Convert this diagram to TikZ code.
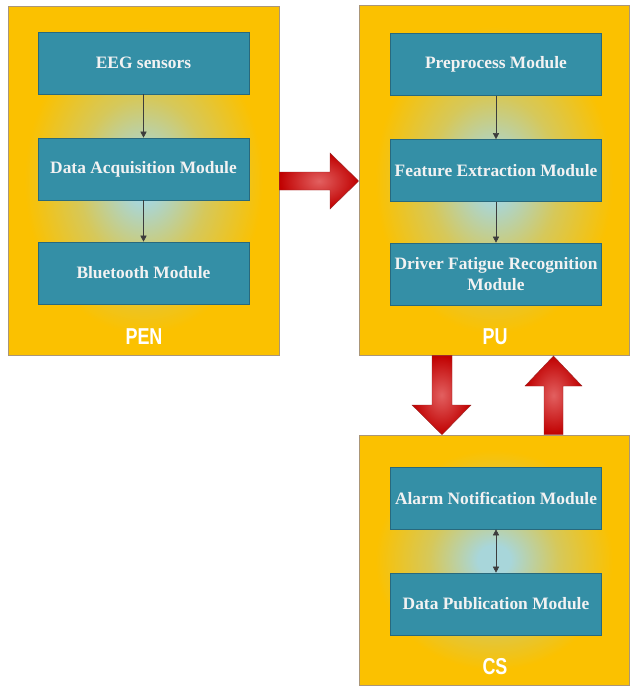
\documentclass[tikz,border=0pt]{standalone}
\usepackage{fontspec}
\usepackage{graphicx}
\setmainfont{Liberation Serif}
\setsansfont{Liberation Sans}
\usetikzlibrary{arrows.meta}
\definecolor{boxy}{RGB}{251,193,0}
\definecolor{glowm}{RGB}{214,200,90}
\definecolor{glowc}{RGB}{168,214,218}
\definecolor{teal1}{RGB}{52,143,166}
\definecolor{teal2}{RGB}{40,105,125}
\definecolor{redin}{RGB}{226,96,96}
\definecolor{redout}{RGB}{192,0,0}
\definecolor{redline}{RGB}{150,40,40}
\definecolor{txtw}{RGB}{242,242,242}
\pgfdeclareradialshading{glow}{\pgfpoint{0bp}{0bp}}{color(0bp)=(glowc); color(3bp)=(glowc); color(12bp)=(glowm); color(22bp)=(boxy); color(50bp)=(boxy)}
\tikzset{
  outerbox/.style={draw={rgb,255:red,170;green,150;blue,120}, line width=0.6pt, shading=glow, inner sep=0pt},
  modbox/.style={draw=teal2, line width=0.6pt, fill=teal1, minimum width=211pt, minimum height=62pt, inner sep=0pt, text=txtw, align=center, font=\fontsize{17.4}{21.5}\selectfont\bfseries},
  grplabel/.style={text=white, inner sep=0pt, font=\fontsize{23}{23}\selectfont\sffamily\bfseries},
  link/.style={draw={rgb,255:red,60;green,60;blue,60}, line width=0.5pt, -{Triangle[length=6pt,width=6pt]}},
  link2/.style={draw={rgb,255:red,60;green,60;blue,60}, line width=0.5pt, {Triangle[length=6pt,width=6pt]}-{Triangle[length=6pt,width=6pt]}},
  blockarrow/.style={draw=redline, line width=0.4pt, shading=radial, inner color=redin, outer color=redout}
}
\begin{document}
\begin{tikzpicture}[x=1pt,y=-1pt]
\useasboundingbox (0,0) rectangle (630,686);
% outer groups
\node[outerbox, minimum width=271pt, minimum height=349pt] (pen) at (143.5,180.5) {};
\node[outerbox, minimum width=270pt, minimum height=350pt] (pu) at (494,180) {};
\node[outerbox, minimum width=270pt, minimum height=250pt] (cs) at (494,560) {};
% modules
\node[modbox] (eeg) at (143.5,63) {EEG sensors};
\node[modbox] (daq) at (143.5,169) {Data Acquisition Module};
\node[modbox] (bt) at (143.5,273) {Bluetooth Module};
\node[modbox] (pre) at (496,64.5) {Preprocess Module};
\node[modbox] (feat) at (496,170.5) {Feature Extraction Module};
\node[modbox] (dfr) at (496,274) {Driver Fatigue Recognition\\Module};
\node[modbox] (alarm) at (496,498) {Alarm Notification Module};
\node[modbox] (pub) at (496,604) {Data Publication Module};
% labels
\node[grplabel] (penl) at (144,337) {\scalebox{0.78}[1]{PEN}};
\node[grplabel] (pul) at (495,337) {\scalebox{0.78}[1]{PU}};
\node[grplabel] (csl) at (495,667) {\scalebox{0.78}[1]{CS}};
% internal links
\draw[link] (eeg) -- (daq);
\draw[link] (daq) -- (bt);
\draw[link] (pre) -- (feat);
\draw[link] (feat) -- (dfr);
\draw[link2] (alarm) -- (pub);
% block arrows
\shade[blockarrow] (pen.east |- 0,172) -- (330,172) -- (330,153) -- (pu.west |- 0,181) -- (330,209) -- (330,190) -- (pen.east |- 0,190) -- cycle;
\shade[blockarrow] (432,0 |- pu.south) -- (432,405) -- (412,405) -- (442,0 |- cs.north) -- (471,405) -- (452,405) -- (452,0 |- pu.south) -- cycle;
\shade[blockarrow] (544,0 |- cs.north) -- (544,386) -- (525,386) -- (553.5,356) -- (582,386) -- (563,386) -- (563,0 |- cs.north) -- cycle;
\end{tikzpicture}
\end{document}
